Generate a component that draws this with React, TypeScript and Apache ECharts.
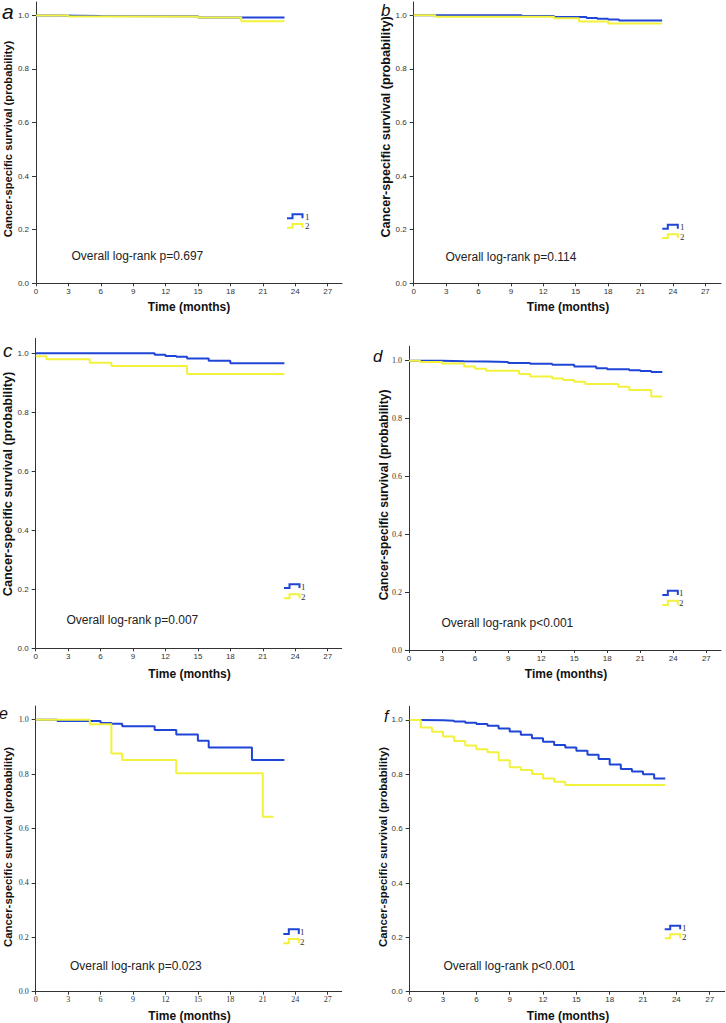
import React, { useEffect, useRef } from "react";
import * as echarts from "echarts";

// ---------- data ----------
const timeTicks = [0, 3, 6, 9, 12, 15, 18, 21, 24, 27];
const survivalTicks = [0, 0.2, 0.4, 0.6, 0.8, 1.0];
const panelLetters = ["a", "b", "c", "d", "e", "f"];
const logRankTexts = [
  "Overall log-rank p=0.697",
  "Overall log-rank p=0.114",
  "Overall log-rank p=0.007",
  "Overall log-rank p<0.001",
  "Overall log-rank p=0.023",
  "Overall log-rank p<0.001",
];
const groupNames = ["1", "2"];
const xTitle = "Time (months)";
const yTitle = "Cancer-specific survival (probability)";

// [time, survival] — Kaplan–Meier steps
const aGroup1 = [[0, 1], [2, 0.998], [6, 0.997], [15, 0.992], [23, 0.992]];
const aGroup2 = [[0, 1], [3, 0.996], [15, 0.992], [19, 0.978], [23, 0.978]];

const bGroup1 = [[0, 1], [10, 0.997], [13, 0.994], [16, 0.99], [17, 0.987], [18, 0.984], [19, 0.981], [23, 0.981]];
const bGroup2 = [[0, 1], [2, 0.995], [13, 0.989], [15.3, 0.977], [18, 0.969], [23, 0.969]];

const cGroup1 = [[0, 1], [11, 0.995], [12, 0.991], [13, 0.988], [14, 0.982], [16, 0.975], [18, 0.966], [23, 0.966]];
const cGroup2 = [[0, 0.99], [1, 0.98], [5, 0.968], [7, 0.957], [14, 0.93], [23, 0.93]];

const dGroup1 = [[0, 1], [1, 0.9995], [3, 0.998], [5, 0.997], [7, 0.995], [9, 0.992], [11, 0.989], [13, 0.986], [15, 0.98], [17, 0.974], [18, 0.97], [20, 0.967], [21, 0.964], [22, 0.961], [23, 0.961]];
const dGroup2 = [[0, 1], [1, 0.995], [3, 0.99], [5, 0.98], [6, 0.972], [7, 0.965], [10, 0.954], [11, 0.945], [13, 0.938], [14, 0.933], [15, 0.927], [16, 0.919], [19, 0.91], [20, 0.899], [22, 0.876], [23, 0.876]];

const eGroup1 = [[0, 1], [2, 0.995], [6, 0.988], [7, 0.985], [8, 0.976], [11, 0.962], [13, 0.946], [15, 0.923], [16, 0.898], [20, 0.852], [23, 0.852]];
const eGroup2 = [[0, 1], [5, 0.983], [7, 0.876], [8, 0.852], [13, 0.803], [21, 0.643], [22, 0.643]];

const fGroup1 = [[0, 1], [1, 0.999], [3, 0.997], [4, 0.994], [5, 0.99], [6, 0.985], [7, 0.979], [8, 0.969], [9, 0.958], [10, 0.946], [11, 0.933], [12, 0.92], [13, 0.908], [14, 0.899], [15, 0.887], [16, 0.872], [17, 0.856], [18, 0.836], [19, 0.82], [20, 0.81], [21, 0.8], [22, 0.785], [23, 0.785]];
const fGroup2 = [[0, 1], [1, 0.972], [2, 0.957], [3, 0.939], [4, 0.923], [5, 0.906], [6, 0.892], [7, 0.881], [8, 0.852], [9, 0.826], [10, 0.816], [11, 0.801], [12, 0.785], [13, 0.773], [14, 0.761], [23, 0.761]];

const group1Data = [aGroup1, bGroup1, cGroup1, dGroup1, eGroup1, fGroup1];
const group2Data = [aGroup2, bGroup2, cGroup2, dGroup2, eGroup2, fGroup2];

// ---------- layout / style ----------
const BLUE = "#1f45d6";
const YELLOW = "#f2f23c";
const AXIS = "#333333";
const SANS = "'Liberation Sans', Arial, sans-serif";
const SERIF = "'Liberation Serif', 'Times New Roman', serif";

const panels = [
  { grid: { left: 36, top: 2, width: 306, height: 281.3 }, xMax: 28.32, yFont: SANS, xFont: SANS,
    letter: { x: 2, y: 11, size: 21 }, yT: { x: 7.5, y: 139, size: 11.2 }, xT: { x: 189, y: 307, size: 12 },
    lr: { x: 71.5, y: 256 }, lg: { x: 287, b: [218.3, 214.3], yl: [227.7, 224], tx: 305 } },
  { grid: { left: 413.7, top: 1.9, width: 307.3, height: 281.4 }, xMax: 28.45, yFont: SANS, xFont: SANS,
    letter: { x: 381, y: 10, size: 17 }, yT: { x: 385.5, y: 127, size: 12.6 }, xT: { x: 568, y: 307.3, size: 12 },
    lr: { x: 445.5, y: 257.3 }, lg: { x: 662.3, b: [228.7, 224.7], yl: [238, 234.3], tx: 680 } },
  { grid: { left: 35.7, top: 338.5, width: 306, height: 309.8 }, xMax: 28.3, yFont: SANS, xFont: SANS,
    letter: { x: 3, y: 350.5, size: 19 }, yT: { x: 7.5, y: 484, size: 12.8 }, xT: { x: 189.5, y: 674.3, size: 12 },
    lr: { x: 66.5, y: 620 }, lg: { x: 284, b: [588, 584.3], yl: [598.3, 594.3], tx: 301 } },
  { grid: { left: 409, top: 346.2, width: 312, height: 303.8 }, xMax: 28.33, yFont: SERIF, xFont: SANS,
    letter: { x: 373, y: 356, size: 17 }, yT: { x: 383.5, y: 495, size: 12 }, xT: { x: 566, y: 674.3, size: 12 },
    lr: { x: 441.5, y: 622.7 }, lg: { x: 662.3, b: [595, 590.7], yl: [605, 600.7], tx: 679 } },
  { grid: { left: 35.7, top: 706.1, width: 306, height: 285.6 }, xMax: 28.3, yFont: SERIF, xFont: SERIF,
    letter: { x: -1, y: 713, size: 16 }, yT: { x: 7.5, y: 847, size: 11.4 }, xT: { x: 189.5, y: 1016, size: 12 },
    lr: { x: 70, y: 966 }, lg: { x: 283.3, b: [934, 929.3], yl: [943.3, 939], tx: 300 } },
  { grid: { left: 409.7, top: 706.4, width: 315, height: 285.3 }, xMax: 28.35, yFont: SANS, xFont: SANS,
    letter: { x: 384, y: 716, size: 16 }, yT: { x: 382.5, y: 847, size: 11.4 }, xT: { x: 568, y: 1016, size: 12 },
    lr: { x: 443.5, y: 966 }, lg: { x: 664.7, b: [929.3, 925.7], yl: [938.3, 934.3], tx: 682 } },
];

function legendStep(x0: number, low: number, high: number, color: string) {
  return {
    type: "polyline",
    silent: true,
    shape: { points: [[x0, low], [x0 + 5.5, low], [x0 + 5.5, high], [x0 + 15.5, high], [x0 + 15.5, low]] },
    style: { stroke: color, lineWidth: 2, fill: null },
  };
}

export default function App() {
  const ref = useRef<HTMLDivElement>(null);

  useEffect(() => {
    document.body.style.margin = "0";
    if (!ref.current) return;
    const chart = echarts.init(ref.current, undefined, { renderer: "svg" });

    const grids: any[] = [];
    const xAxes: any[] = [];
    const yAxes: any[] = [];
    const series: any[] = [];
    const graphics: any[] = [];

    panels.forEach((p, i) => {
      grids.push({ ...p.grid, containLabel: false });
      xAxes.push({
        type: "value",
        gridIndex: i,
        min: 0,
        max: p.xMax,
        splitLine: { show: false },
        axisLine: { show: true, onZero: false, lineStyle: { color: AXIS, width: 1 } },
        axisTick: { show: true, length: 3, customValues: timeTicks, lineStyle: { color: AXIS } },
        axisLabel: {
          customValues: timeTicks,
          fontSize: 8,
          margin: 4,
          color: "#333",
          fontFamily: p.xFont,
          formatter: (v: number) => String(v),
        },
      });
      yAxes.push({
        type: "value",
        gridIndex: i,
        min: 0,
        max: 1.05,
        splitLine: { show: false },
        axisLine: { show: true, onZero: false, lineStyle: { color: AXIS, width: 1 } },
        axisTick: { show: true, length: 4, customValues: survivalTicks, lineStyle: { color: AXIS } },
        axisLabel: {
          customValues: survivalTicks,
          fontSize: 8,
          margin: 7,
          color: "#333",
          fontFamily: p.yFont,
          formatter: (v: number) => v.toFixed(1),
        },
      });
      series.push({
        type: "line",
        name: groupNames[0],
        xAxisIndex: i,
        yAxisIndex: i,
        step: "end",
        showSymbol: false,
        symbol: "none",
        data: group1Data[i],
        lineStyle: { color: BLUE, width: 2 },
        itemStyle: { color: BLUE },
        z: 2,
      });
      series.push({
        type: "line",
        name: groupNames[1],
        xAxisIndex: i,
        yAxisIndex: i,
        step: "end",
        showSymbol: false,
        symbol: "none",
        data: group2Data[i],
        lineStyle: { color: YELLOW, width: 2 },
        itemStyle: { color: YELLOW },
        z: 3,
      });

      graphics.push({
        type: "text",
        x: p.letter.x,
        y: p.letter.y,
        style: {
          text: panelLetters[i],
          font: `italic ${p.letter.size}px ${SANS}`,
          fill: "#111",
          textAlign: "left",
          textVerticalAlign: "middle",
        },
      });
      graphics.push({
        type: "text",
        x: p.yT.x,
        y: p.yT.y,
        rotation: Math.PI / 2,
        style: {
          text: yTitle,
          font: `bold ${p.yT.size}px ${SANS}`,
          fill: "#111",
          textAlign: "center",
          textVerticalAlign: "middle",
        },
      });
      graphics.push({
        type: "text",
        x: p.xT.x,
        y: p.xT.y,
        style: {
          text: xTitle,
          font: `bold ${p.xT.size}px ${SANS}`,
          fill: "#111",
          textAlign: "center",
          textVerticalAlign: "middle",
        },
      });
      graphics.push({
        type: "text",
        x: p.lr.x,
        y: p.lr.y,
        style: {
          text: logRankTexts[i],
          font: `12px ${SANS}`,
          fill: "#222",
          textAlign: "left",
          textVerticalAlign: "middle",
        },
      });
      graphics.push(legendStep(p.lg.x, p.lg.b[0], p.lg.b[1], BLUE));
      graphics.push(legendStep(p.lg.x, p.lg.yl[0], p.lg.yl[1], YELLOW));
      graphics.push({
        type: "text",
        x: p.lg.tx,
        y: (p.lg.b[0] + p.lg.b[1]) / 2 + 0.5,
        style: { text: groupNames[0], font: `9px ${SERIF}`, fill: "#333", textAlign: "left", textVerticalAlign: "middle" },
      });
      graphics.push({
        type: "text",
        x: p.lg.tx,
        y: (p.lg.yl[0] + p.lg.yl[1]) / 2 + 0.5,
        style: { text: groupNames[1], font: `9px ${SERIF}`, fill: "#333", textAlign: "left", textVerticalAlign: "middle" },
      });
    });

    chart.setOption({
      animation: false,
      backgroundColor: "#ffffff",
      grid: grids,
      xAxis: xAxes,
      yAxis: yAxes,
      series,
      graphic: graphics,
    });

    return () => chart.dispose();
  }, []);

  return (
    <div
      ref={ref}
      style={{ position: "absolute", left: 0, top: 0, width: 726, height: 1023, background: "#fff" }}
    />
  );
}
